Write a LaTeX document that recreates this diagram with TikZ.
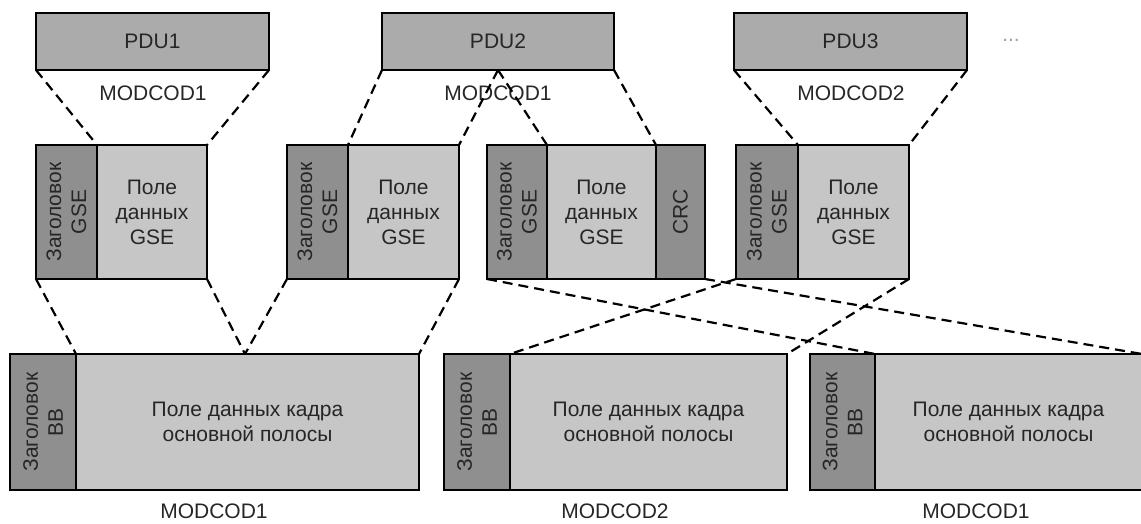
\documentclass[tikz,border=0pt]{standalone}
\usepackage{fontspec}
\setmainfont{Liberation Sans}
\definecolor{pdugray}{HTML}{ABABAB}
\definecolor{hdrgray}{HTML}{8F8F8F}
\definecolor{datgray}{HTML}{C6C6C6}
\definecolor{txtcol}{HTML}{262626}
\definecolor{dotcol}{HTML}{A0A0A0}
\begin{document}
\begin{tikzpicture}[x=1pt,y=-1pt,
  box/.style={draw=black, line width=2.2pt, inner sep=0pt, outer sep=0pt, anchor=north west},
  pdu/.style={box, fill=pdugray, minimum height=57pt},
  hdr/.style={box, fill=hdrgray},
  dat/.style={box, fill=datgray},
  gse/.style={minimum height=134pt},
  bbf/.style={minimum height=136pt},
  txt/.style={text=txtcol, font=\fontsize{21}{25}\selectfont, align=center, inner sep=0pt},
  vtxt/.style={txt, rotate=90},
  link/.style={draw=black, line width=2.2pt, dash pattern=on 10pt off 6pt}]
\useasboundingbox (0,0) rectangle (1141,524);
\clip (0,0) rectangle (1141,524);
% PDUs
\node[pdu, minimum width=233pt] (pdu1) at (36,13) {};
\node[txt] at (pdu1) {PDU1};
\node[pdu, minimum width=232pt] (pdu2) at (382,13) {};
\node[txt] at (pdu2) {PDU2};
\node[pdu, minimum width=233pt] (pdu3) at (734,13) {};
\node[txt] at (pdu3) {PDU3};
\node[txt, text=dotcol] (dots) at (1011,40) {...};
\node[txt] (m1) at (153,93) {MODCOD1};
\node[txt] (m2) at (498,93) {MODCOD1};
\node[txt] (m3) at (851,93) {MODCOD2};
% GSE packets
\node[hdr, gse, minimum width=61pt] (g1h) at (36,145) {};
\node[dat, gse, minimum width=110pt] (g1d) at (97,145) {};
\node[hdr, gse, minimum width=61pt] (g2h) at (287,145) {};
\node[dat, gse, minimum width=111pt] (g2d) at (348,145) {};
\node[hdr, gse, minimum width=60pt] (g3h) at (487,145) {};
\node[dat, gse, minimum width=109pt] (g3d) at (547,145) {};
\node[hdr, gse, minimum width=49pt] (crc) at (656,145) {};
\node[hdr, gse, minimum width=62pt] (g4h) at (736,145) {};
\node[dat, gse, minimum width=111pt] (g4d) at (798,145) {};
\foreach \n in {g1h,g2h,g3h,g4h}{\node[vtxt] at (\n) {Заголовок\\GSE};}
\foreach \n in {g1d,g2d,g3d,g4d}{\node[txt] at (\n) {Поле\\данных\\GSE};}
\node[vtxt] at (crc) {CRC};
% BB frames
\node[hdr, bbf, minimum width=66pt] (b1h) at (10,354) {};
\node[dat, bbf, minimum width=343pt] (b1d) at (76,354) {};
\node[hdr, bbf, minimum width=66pt] (b2h) at (444,354) {};
\node[dat, bbf, minimum width=277pt] (b2d) at (510,354) {};
\node[hdr, bbf, minimum width=65pt] (b3h) at (810,354) {};
\node[dat, bbf, minimum width=267pt] (b3d) at (875,354) {};
\foreach \n in {b1h,b2h,b3h}{\node[vtxt] at (\n) {Заголовок\\BB};}
\foreach \n in {b1d,b2d,b3d}{\node[txt] at (\n) {Поле данных кадра\\основной полосы};}
\node[txt] (n1) at (214,511) {MODCOD1};
\node[txt] (n2) at (615,511) {MODCOD2};
\node[txt] (n3) at (976,511) {MODCOD1};
% split points
\coordinate (p2) at (498,70);
\coordinate (v1) at (245,354);
% connectors PDU -> GSE
\draw[link] (pdu1.south west) -- (g1d.north west);
\draw[link] (pdu1.south east) -- (g1d.north east);
\draw[link] (pdu2.south west) -- (g2d.north west);
\draw[link] (p2) -- (g2d.north east);
\draw[link] (p2) -- (g3d.north west);
\draw[link] (pdu2.south east) -- (crc.north west);
\draw[link] (pdu3.south west) -- (g4d.north west);
\draw[link] (pdu3.south east) -- (g4d.north east);
% connectors GSE -> BB
\draw[link] (g1h.south west) -- (b1d.north west);
\draw[link] (g1d.south east) -- (v1);
\draw[link] (g2h.south west) -- (v1);
\draw[link] (g2d.south east) -- (b1d.north east);
\draw[link] (g3h.south west) -- (b3d.north west);
\draw[link] (crc.south east) -- (b3d.north east);
\draw[link] (g4h.south west) -- (b2d.north west);
\draw[link] (g4d.south east) -- (b2d.north east);
\end{tikzpicture}
\end{document}
